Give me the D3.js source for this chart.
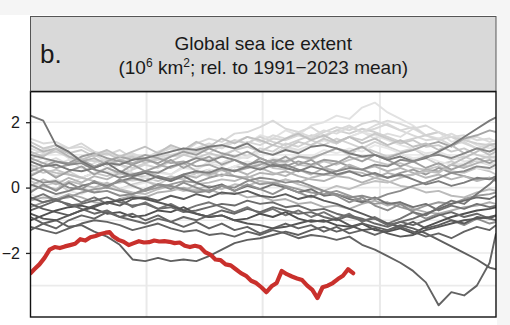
<!DOCTYPE html>
<html>
<head>
<meta charset="utf-8">
<script src="https://cdn.jsdelivr.net/npm/d3@7"></script>
<style>
body { margin: 0; background: #f5f5f5; }
</style>
</head>
<body>
<div id="my_dataviz"></div>
<script>
// dias del año para las series grises (cada 10 dias)
var dias = [1,11,21,31,41,51,61,71,81,91,101,111,121,131,141,151,161,171,181,191,
            201,211,221,231,241,251,261,271,281,291,301,311,321,331,341,351,361,366];

// anomalias de extension (10^6 km2), una lista por año
var serie01 = [0.8,0.9,0.7,0.85,0.6,0.75,0.9,0.7,0.95,1.0,0.85,1.1,1.2,1.05,1.3,1.2,1.45,1.35,1.6,1.5,1.75,1.6,1.9,2.0,2.2,2.1,2.45,2.6,2.3,2.1,1.9,1.6,1.7,1.4,1.5,1.3,1.2,1.25];
var serie02 = [1.5,1.35,1.4,1.2,1.25,1.05,1.1,0.9,1.0,0.85,1.05,1.2,1.1,1.35,1.5,1.4,1.65,1.7,1.85,2.05,1.8,1.7,1.85,1.6,1.75,1.9,1.7,1.8,1.95,1.75,1.6,1.45,1.5,1.3,1.4,1.2,1.35,1.3];
var serie03 = [0.4,0.55,0.35,0.5,0.3,0.45,0.6,0.4,0.55,0.7,0.6,0.8,0.7,0.95,0.85,1.0,1.15,0.95,1.2,1.1,1.35,1.25,1.45,1.3,1.5,1.35,1.2,1.4,1.25,1.1,1.2,0.95,1.05,0.85,0.95,0.8,0.7,0.75];
var serie04 = [1.2,1.05,1.15,0.9,0.75,0.85,0.6,0.7,0.45,0.35,0.5,0.4,0.65,0.55,0.8,0.75,0.95,0.9,1.1,1.0,1.25,1.15,1.3,1.45,1.35,1.55,1.7,1.5,1.65,1.55,1.8,1.6,1.5,1.65,1.45,1.55,1.4,1.45];
var serie05 = [0.2,0.05,0.15,-0.1,0.0,-0.15,0.05,-0.05,0.1,0.2,0.1,0.3,0.25,0.45,0.35,0.55,0.5,0.7,0.6,0.8,0.75,0.95,0.85,1.05,1.2,1.0,1.25,1.1,0.95,1.05,0.85,0.9,0.7,0.8,0.65,0.85,0.95,0.9];
var serie06 = [1.0,1.15,1.3,1.2,1.35,1.1,1.0,1.15,0.9,0.8,0.95,1.0,1.1,1.2,1.05,1.3,1.2,1.4,1.3,1.5,1.45,1.6,1.5,1.7,1.85,1.75,1.95,2.05,1.9,1.75,1.85,1.6,1.45,1.55,1.35,1.2,1.1,1.15];
var serie07 = [0.6,0.45,0.55,0.4,0.3,0.45,0.35,0.5,0.4,0.3,0.2,0.35,0.25,0.45,0.55,0.5,0.65,0.6,0.75,0.6,0.55,0.7,0.65,0.8,0.7,0.85,0.95,0.8,0.7,0.75,0.6,0.55,0.65,0.5,0.45,0.6,0.5,0.4];
var serie08 = [0.0,0.15,0.25,0.1,0.3,0.45,0.5,0.35,0.2,0.3,0.45,0.4,0.6,0.55,0.75,0.65,0.85,0.95,1.1,1.0,1.2,1.1,1.3,1.45,1.35,1.55,1.7,1.6,1.45,1.3,1.2,1.05,1.1,0.95,0.8,0.85,0.7,0.75];
var serie09 = [-0.2,-0.35,-0.25,-0.1,-0.2,0.0,0.1,-0.05,0.05,0.15,0.3,0.2,0.4,0.35,0.55,0.5,0.65,0.8,0.7,0.9,0.85,1.0,0.95,1.15,1.05,1.2,1.1,1.3,1.2,1.05,0.9,0.95,0.8,0.7,0.75,0.6,0.55,0.6];
var serie10 = [0.9,1.0,1.1,0.95,0.9,0.8,0.85,0.7,0.6,0.75,0.85,0.95,1.0,1.1,1.2,1.3,1.45,1.35,1.55,1.4,1.3,1.45,1.6,1.55,1.75,1.65,1.8,1.7,1.55,1.4,1.5,1.6,1.7,1.55,1.45,1.35,1.3,1.25];
var serie11 = [0.6,0.75,0.9,0.7,0.85,1.0,0.8,0.95,1.05,0.9,1.1,1.25,1.05,1.2,1.35,1.2,1.4,1.55,1.4,1.6,1.5,1.7,1.55,1.75,1.65,1.85,1.7,1.9,2.05,1.95,1.8,1.9,1.7,1.55,1.6,1.45,1.5,1.4];
var serie12 = [1.4,1.2,1.3,1.05,1.15,0.95,1.05,0.85,0.95,0.75,0.9,0.8,1.0,0.9,1.05,0.95,1.15,1.25,1.1,1.3,1.2,1.4,1.3,1.5,1.35,1.55,1.45,1.65,1.5,1.35,1.45,1.25,1.3,1.1,1.2,1.0,0.9,0.95];
var serie13 = [1.3,1.1,1.2,0.95,0.8,0.9,0.7,0.85,0.75,0.9,0.7,0.6,0.75,0.5,0.4,0.55,0.35,0.3,0.45,0.4,0.5,0.35,0.25,0.2,0.35,0.3,0.15,0.3,0.45,0.35,0.4,0.55,0.5,0.7,0.6,0.75,0.85,0.8];
var serie14 = [0.9,0.75,0.6,0.7,0.85,0.65,0.8,0.95,0.85,1.0,0.9,0.75,0.8,0.65,0.7,0.55,0.5,0.6,0.7,0.85,0.8,0.95,0.9,1.05,1.2,1.1,1.25,1.0,0.9,1.05,1.15,1.3,1.4,1.25,1.5,1.6,1.75,1.7];
var serie15 = [-0.1,0.05,-0.05,0.2,0.1,0.0,0.15,-0.05,-0.15,-0.2,-0.05,0.05,-0.1,0.1,0.15,0.25,0.2,0.35,0.2,0.1,0.25,0.15,0.3,0.4,0.35,0.5,0.45,0.3,0.2,0.05,0.0,-0.15,-0.1,-0.25,-0.3,-0.15,-0.05,-0.1];
var serie16 = [0.5,0.65,0.8,0.75,0.95,1.05,0.9,0.8,0.7,0.85,0.75,0.95,1.1,1.0,1.2,1.05,0.95,1.1,0.9,0.75,0.65,0.8,0.7,0.85,0.8,0.65,0.55,0.4,0.3,0.45,0.55,0.4,0.6,0.45,0.35,0.25,0.3,0.2];
var serie17 = [-0.4,-0.3,-0.35,-0.2,-0.3,-0.45,-0.5,-0.35,-0.25,-0.3,-0.15,-0.1,0.0,-0.1,-0.05,-0.2,-0.15,-0.3,-0.25,-0.4,-0.35,-0.5,-0.45,-0.6,-0.55,-0.65,-0.5,-0.4,-0.55,-0.45,-0.65,-0.75,-0.8,-0.7,-0.6,-0.55,-0.45,-0.5];
var serie18 = [0.7,0.55,0.45,0.4,0.3,0.2,0.1,0.15,0.25,0.2,0.05,0.0,-0.1,-0.05,0.05,-0.05,0.1,0.05,0.2,0.15,0.25,0.1,0.0,-0.1,0.05,-0.05,0.1,0.2,0.15,0.3,0.4,0.5,0.45,0.7,0.9,1.1,1.3,1.35];
var serie19 = [-0.6,-0.45,-0.35,-0.3,-0.15,-0.05,0.0,-0.1,-0.2,-0.1,0.0,0.1,0.2,0.15,0.3,0.4,0.35,0.25,0.1,0.15,0.05,-0.05,-0.15,-0.2,-0.1,-0.25,-0.4,-0.5,-0.45,-0.6,-0.7,-0.55,-0.45,-0.5,-0.35,-0.25,-0.2,-0.15];
var serie20 = [0.35,0.55,0.3,0.5,0.65,0.4,0.6,0.45,0.7,0.5,0.65,0.85,0.6,0.8,0.95,0.7,0.85,0.65,0.9,0.75,0.95,0.7,0.85,0.6,0.75,0.95,0.8,1.0,0.85,0.65,0.8,0.6,0.75,0.55,0.7,0.9,0.75,0.85];
var serie21 = [1.1,0.95,1.2,1.05,0.85,1.0,1.15,0.95,1.1,1.25,1.05,1.3,1.15,1.4,1.25,1.5,1.35,1.55,1.45,1.3,1.5,1.65,1.45,1.6,1.4,1.55,1.35,1.5,1.3,1.45,1.25,1.35,1.15,1.3,1.05,1.2,1.0,1.1];
var serie22 = [0.05,0.25,0.1,0.3,0.15,0.35,0.25,0.45,0.3,0.5,0.35,0.2,0.4,0.3,0.5,0.35,0.55,0.4,0.6,0.45,0.35,0.55,0.4,0.6,0.5,0.7,0.55,0.65,0.5,0.6,0.45,0.3,0.4,0.25,0.35,0.2,0.3,0.25];
var serie23 = [2.2,2.05,1.3,1.1,0.8,0.6,0.75,0.5,0.35,0.45,0.3,0.2,0.35,0.15,0.0,0.1,-0.1,0.05,-0.05,0.1,0.0,-0.15,-0.05,-0.25,-0.2,-0.35,-0.45,-0.3,-0.5,-0.45,-0.6,-0.5,-0.7,-0.55,-0.65,-0.5,-0.6,-0.55];
var serie24 = [0.8,0.65,0.7,0.55,0.5,0.6,0.75,0.7,0.85,0.9,1.0,1.1,1.2,1.15,1.25,1.3,1.2,1.35,1.1,1.0,1.15,1.05,1.25,1.3,1.2,1.05,0.95,1.0,0.85,0.95,0.8,0.9,1.1,1.3,1.55,1.8,2.05,2.15];
var serie25 = [1.0,0.9,0.8,0.7,0.75,0.55,0.45,0.3,0.4,0.5,0.45,0.65,0.75,0.9,0.8,0.95,0.85,0.7,0.8,0.65,0.7,0.55,0.45,0.4,0.5,0.6,0.55,0.7,0.65,0.85,0.8,0.95,1.0,0.9,1.05,1.2,1.1,1.2];
var serie26 = [0.3,0.15,0.2,0.0,-0.05,-0.15,-0.1,-0.25,-0.2,-0.05,0.1,0.05,-0.05,-0.15,-0.1,0.05,0.0,0.2,0.3,0.25,0.15,0.2,0.05,-0.1,-0.2,-0.3,-0.25,-0.35,-0.2,-0.1,0.05,0.15,0.3,0.45,0.5,0.65,0.6,0.7];
var serie27 = [0.1,-0.05,-0.2,-0.1,0.05,0.15,0.05,0.2,0.3,0.2,0.35,0.25,0.4,0.5,0.45,0.6,0.5,0.65,0.55,0.7,0.6,0.5,0.65,0.55,0.4,0.5,0.35,0.45,0.3,0.4,0.25,0.1,0.2,0.05,0.15,0.3,0.25,0.35];
var serie28 = [-0.15,0.1,-0.1,0.15,-0.05,0.2,0.0,0.25,0.05,-0.1,0.1,-0.05,0.15,0.0,-0.15,0.05,-0.1,0.1,-0.05,-0.2,0.0,-0.15,-0.3,-0.1,-0.25,-0.45,-0.3,-0.55,-0.7,-0.5,-0.75,-0.95,-0.8,-1.0,-1.15,-0.95,-1.1,-1.05];
var serie29 = [-0.35,-0.2,-0.4,-0.25,-0.45,-0.3,-0.5,-0.35,-0.6,-0.45,-0.65,-0.5,-0.7,-0.55,-0.45,-0.6,-0.75,-0.6,-0.8,-0.65,-0.85,-0.7,-0.9,-0.75,-0.95,-0.8,-1.05,-0.9,-1.1,-0.95,-0.75,-0.85,-0.6,-0.4,-0.5,-0.2,0.1,0.3];
var serie30 = [-0.5,-0.65,-0.75,-0.85,-0.7,-0.6,-0.45,-0.55,-0.35,-0.3,-0.4,-0.25,-0.35,-0.2,-0.3,-0.15,-0.2,-0.1,-0.25,-0.3,-0.2,-0.35,-0.25,-0.4,-0.5,-0.65,-0.8,-0.95,-1.1,-1.2,-1.05,-1.25,-1.15,-1.0,-1.1,-0.9,-0.95,-0.85];
var serie31 = [-1.0,-0.85,-0.7,-0.6,-0.55,-0.65,-0.8,-0.75,-0.9,-0.85,-0.7,-0.75,-0.6,-0.8,-0.9,-0.85,-1.0,-0.95,-0.8,-0.9,-0.75,-0.95,-1.05,-1.0,-1.15,-1.2,-1.1,-1.3,-1.35,-1.25,-1.4,-1.2,-1.05,-0.9,-0.8,-0.7,-0.65,-0.6];
var serie32 = [-1.2,-1.3,-1.4,-1.25,-1.1,-1.0,-1.05,-1.15,-1.3,-1.2,-1.1,-1.25,-1.35,-1.3,-1.45,-1.4,-1.5,-1.35,-1.45,-1.3,-1.4,-1.55,-1.45,-1.5,-1.6,-1.5,-1.75,-1.9,-2.1,-2.3,-2.55,-2.9,-3.6,-3.2,-3.3,-3.0,-2.3,-1.4];
var serie33 = [-0.9,-1.1,-1.0,-1.2,-1.15,-1.35,-1.5,-1.75,-2.2,-2.25,-2.15,-2.25,-2.2,-2.25,-2.1,-1.9,-1.7,-1.6,-1.55,-1.45,-1.35,-1.45,-1.3,-1.2,-1.35,-1.25,-1.1,-1.2,-1.3,-1.15,-1.25,-1.4,-1.6,-1.8,-2.0,-2.2,-2.45,-2.5];
var serie34 = [-0.7,-0.55,-0.4,-0.5,-0.65,-0.8,-0.7,-0.9,-1.0,-1.1,-0.95,-1.05,-0.9,-1.0,-0.85,-0.7,-0.8,-0.65,-0.75,-0.6,-0.7,-0.8,-0.75,-0.9,-1.0,-0.85,-0.95,-1.1,-1.2,-1.05,-1.15,-1.0,-0.85,-0.75,-0.9,-0.8,-0.95,-1.0];
var serie35 = [-0.3,-0.45,-0.35,-0.55,-0.5,-0.4,-0.3,-0.45,-0.55,-0.5,-0.65,-0.6,-0.75,-0.7,-0.6,-0.5,-0.55,-0.4,-0.5,-0.45,-0.6,-0.55,-0.7,-0.65,-0.8,-0.9,-1.0,-0.95,-1.15,-1.05,-0.95,-0.8,-0.65,-0.5,-0.4,-0.3,-0.35,-0.25];
var serie36 = [-1.3,-1.1,-1.25,-1.0,-0.85,-0.95,-0.75,-0.9,-0.8,-1.0,-0.85,-1.05,-1.2,-1.05,-1.25,-1.1,-1.3,-1.2,-1.4,-1.25,-1.1,-1.25,-1.15,-1.35,-1.2,-1.4,-1.3,-1.45,-1.3,-1.2,-1.35,-1.5,-1.4,-1.55,-1.35,-1.2,-1.3,-1.15];
var serie37 = [-0.8,-0.95,-1.0,-0.85,-0.7,-0.55,-0.45,-0.4,-0.3,-0.35,-0.45,-0.55,-0.7,-0.8,-0.9,-0.85,-1.0,-1.1,-1.15,-1.25,-1.2,-1.1,-1.0,-1.05,-0.95,-1.15,-1.3,-1.25,-1.4,-1.5,-1.45,-1.3,-1.2,-1.1,-1.0,-0.95,-0.9,-0.85];

// orden de dibujo: de las mas claras a las mas oscuras
var series = [serie01,serie02,serie03,serie04,serie05,serie06,serie07,serie08,serie09,serie10,
              serie11,serie12,serie13,serie14,serie15,serie16,serie17,serie18,serie19,serie20,
              serie21,serie22,serie23,serie24,serie25,serie26,serie27,serie28,serie29,serie30,
              serie31,serie32,serie33,serie34,serie35,serie36,serie37];
var tonos = ["#e2e2e2","#d9d9d9","#d3d3d3","#dddddd","#cdcdcd","#d6d6d6","#c6c6c6","#e4e4e4","#e8e8e8","#d0d0d0",
             "#dadada","#cacaca","#b3b3b3","#a6a6a6","#bbbbbb","#9c9c9c","#afafaf","#bfbfbf","#9a9a9a","#a0a0a0",
             "#c0c0c0","#b6b6b6","#737373","#7a7a7a","#888888","#8c8c8c","#7d7d7d","#909090","#767676","#5c5c5c",
             "#505050","#636363","#5f5f5f","#686868","#6b6b6b","#646464","#575757"];

// año actual (linea roja)
var diasActual = [1,4,8,12,16,20,24,28,32,36,40,44,48,52,56,60,63,66,70,74,78,82,86,90,94,98,102,106,110,114,
                  118,122,126,130,134,138,142,146,150,154,158,162,166,170,174,178,182,186,190,194,198,202,206,210,214,
                  218,222,226,230,234,238,242,246,250,254];
var valoresActual = [-2.62,-2.5,-2.35,-2.15,-1.9,-1.82,-1.85,-1.8,-1.76,-1.72,-1.58,-1.62,-1.52,-1.48,-1.42,-1.38,-1.36,-1.5,
                     -1.6,-1.66,-1.76,-1.7,-1.64,-1.68,-1.67,-1.62,-1.65,-1.64,-1.66,-1.7,-1.68,-1.78,-1.82,-1.78,-1.82,-1.98,-2.05,-2.2,
                     -2.22,-2.35,-2.38,-2.5,-2.62,-2.7,-2.85,-2.92,-3.05,-3.2,-3.02,-2.92,-2.55,-2.65,-2.72,-2.78,-2.83,-3.0,-3.13,-3.38,
                     -3.05,-3.0,-2.92,-2.8,-2.7,-2.5,-2.62];

var ticksY = [2, 0, -2];
var rejillaY = [-3, -2, -1, 0, 1, 2];
var rejillaX = [92, 183, 275];   // 1 abr, 1 jul, 1 oct
var letraPanel = "b.";
var titulo1 = "Global sea ice extent";

function dibujar()
{
    var _b = 510;
    var _h = 325;
    var _margen = {izquierda: 30.5, derecha: 496, arriba: 91.5, abajo: 317};
    var fuente = "Arial, 'Liberation Sans', Helvetica, sans-serif";

    var _svg = d3.select("#my_dataviz")
            .append("svg")
            .attr("width", _b)
            .attr("height", _h);

    // fondo blanco del grafico
    _svg.append("rect")
            .attr("x", 0).attr("y", 15)
            .attr("width", 497).attr("height", _h - 15)
            .attr("fill", "#ffffff");

    var x = d3.scaleLinear().domain([1, 366]).range([_margen.izquierda, _margen.derecha]);
    var y = d3.scaleLinear().domain([-3.96, 2.94]).range([_margen.abajo, _margen.arriba]);

    _svg.append("defs")
            .append("clipPath")
            .attr("id", "ventana")
            .append("rect")
            .attr("x", _margen.izquierda)
            .attr("y", _margen.arriba)
            .attr("width", _margen.derecha - _margen.izquierda)
            .attr("height", _margen.abajo - _margen.arriba);

    // rejilla
    _svg.append("g").selectAll("line")
            .data(rejillaY).enter().append("line")
            .attr("x1", _margen.izquierda).attr("x2", _margen.derecha)
            .attr("y1", function(d) { return y(d); })
            .attr("y2", function(d) { return y(d); })
            .attr("stroke", "#ebebeb")
            .attr("stroke-width", 1.6);
    _svg.append("g").selectAll("line")
            .data(rejillaX).enter().append("line")
            .attr("y1", _margen.arriba).attr("y2", _margen.abajo)
            .attr("x1", function(d) { return x(d); })
            .attr("x2", function(d) { return x(d); })
            .attr("stroke", "#e9e9e9")
            .attr("stroke-width", 2);

    var linea = d3.line()
            .x(function(d, i) { return x(dias[i]); })
            .y(function(d) { return y(d); });

    var cuerpo = _svg.append("g").attr("clip-path", "url(#ventana)");

    cuerpo.selectAll("path.gris")
            .data(series).enter().append("path")
            .attr("class", "gris")
            .attr("d", linea)
            .attr("fill", "none")
            .attr("stroke", function(d, i) { return tonos[i]; })
            .attr("stroke-width", 1.9)
            .attr("stroke-linejoin", "round");

    var lineaActual = d3.line()
            .x(function(d, i) { return x(diasActual[i]); })
            .y(function(d) { return y(d); });

    cuerpo.append("path")
            .attr("d", lineaActual(valoresActual))
            .attr("fill", "none")
            .attr("stroke", "#c9302c")
            .attr("stroke-width", 4.2)
            .attr("stroke-linejoin", "round")
            .attr("stroke-linecap", "round");

    // borde del panel
    _svg.append("rect")
            .attr("x", _margen.izquierda).attr("y", _margen.arriba)
            .attr("width", _margen.derecha - _margen.izquierda)
            .attr("height", _margen.abajo - _margen.arriba)
            .attr("fill", "none")
            .attr("stroke", "#111111")
            .attr("stroke-width", 1.4);

    // franja del titulo
    _svg.append("rect")
            .attr("x", _margen.izquierda).attr("y", 16.5)
            .attr("width", _margen.derecha - _margen.izquierda)
            .attr("height", _margen.arriba - 16.5)
            .attr("fill", "#d9d9d9")
            .attr("stroke", "#555555")
            .attr("stroke-width", 1);
    _svg.append("line")
            .attr("x1", _margen.izquierda).attr("x2", _margen.derecha)
            .attr("y1", _margen.arriba).attr("y2", _margen.arriba)
            .attr("stroke", "#111111").attr("stroke-width", 1.6);

    _svg.append("text")
            .attr("x", 40).attr("y", 63)
            .style("font-family", fuente).style("font-size", "26px")
            .attr("fill", "#1a1a1a")
            .text(letraPanel);

    var centro = (_margen.izquierda + _margen.derecha) / 2;
    _svg.append("text")
            .attr("x", centro).attr("y", 49.5)
            .attr("text-anchor", "middle")
            .style("font-family", fuente).style("font-size", "19px")
            .attr("fill", "#1a1a1a")
            .text(titulo1);

    var t2 = _svg.append("text")
            .attr("x", centro).attr("y", 73.5)
            .attr("text-anchor", "middle")
            .style("font-family", fuente).style("font-size", "19px")
            .attr("fill", "#1a1a1a");
    t2.append("tspan").text("(10");
    t2.append("tspan").attr("dy", -7).style("font-size", "12px").text("6");
    t2.append("tspan").attr("dy", 7).text(" km");
    t2.append("tspan").attr("dy", -7).style("font-size", "12px").text("2");
    t2.append("tspan").attr("dy", 7).text("; rel. to 1991\u22122023 mean)");

    // eje y
    var ejeY = _svg.append("g")
            .attr("transform", "translate(" + _margen.izquierda + ",0)")
            .call(d3.axisLeft(y).tickValues(ticksY).tickSize(4.5).tickPadding(6).tickFormat(d3.format("d")));
    ejeY.select(".domain").remove();
    ejeY.selectAll("line").attr("stroke", "#222222").attr("stroke-width", 1.3);
    ejeY.selectAll("text")
            .style("font-family", fuente).style("font-size", "16px")
            .attr("fill", "#1a1a1a");
}

dibujar();
</script>
</body>
</html>
